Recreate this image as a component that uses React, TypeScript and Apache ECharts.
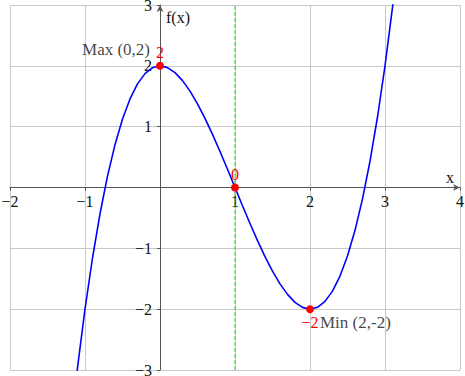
import React, { useEffect, useRef } from "react";
import * as echarts from "echarts";

// x positions of the sampled curve
const curveX: number[] = [
  -1.2, -1.1, -1.0, -0.9, -0.8, -0.7, -0.6, -0.5, -0.4, -0.3, -0.2, -0.1, 0.0,
  0.1, 0.2, 0.3, 0.4, 0.5, 0.6, 0.7, 0.8, 0.9, 1.0, 1.1, 1.2, 1.3, 1.4, 1.5,
  1.6, 1.7, 1.8, 1.9, 2.0, 2.1, 2.2, 2.3, 2.4, 2.5, 2.6, 2.7, 2.8, 2.9, 3.0,
  3.1, 3.2,
];
// f(x) values
const curveY: number[] = [
  -4.048, -2.961, -2.0, -1.159, -0.432, 0.187, 0.704, 1.125, 1.456, 1.703,
  1.872, 1.969, 2.0, 1.971, 1.888, 1.757, 1.584, 1.375, 1.136, 0.873, 0.592,
  0.299, 0.0, -0.299, -0.592, -0.873, -1.136, -1.375, -1.584, -1.757, -1.888,
  -1.971, -2.0, -1.969, -1.872, -1.703, -1.456, -1.125, -0.704, -0.187, 0.432,
  1.159, 2.0, 2.961, 4.048,
];

// highlighted points
const pointX: number[] = [0, 1, 2];
const pointY: number[] = [2, 0, -2];
const pointLabels: string[] = ["2", "0", "\u22122"];

// annotations
const annotations: string[] = ["Max (0,2)", "Min (2,-2)"];
const annotationX: number[] = [0, 2];
const annotationY: number[] = [2, -2];

// vertical reference line
const verticalLineX: number[] = [1, 1];
const verticalLineY: number[] = [-3, 3];

const X_MIN = -2;
const X_MAX = 4;
const Y_MIN = -3;
const Y_MAX = 3;

const FONT = "'Liberation Serif', serif";

const fmt = (v: number) => (v === 0 ? "" : v < 0 ? "\u2212" + Math.abs(v) : String(v));

export default function App() {
  const ref = useRef<HTMLDivElement>(null);
  useEffect(() => {
    if (!ref.current) return;
    const chart = echarts.init(ref.current, undefined, { renderer: "svg" });
    const W = 465;
    const H = 376;
    const G = { left: 10, top: 5, right: 5, bottom: 6 };
    const gw = W - G.left - G.right;
    const gh = H - G.top - G.bottom;
    // shift axes so they cross at the origin, carrying their labels with them
    const xAxisOffset = -(gh * (0 - Y_MIN)) / (Y_MAX - Y_MIN);
    const yAxisOffset = -(gw * (0 - X_MIN)) / (X_MAX - X_MIN);
    const labelCommon = {
      formatter: fmt,
      color: "#111",
      fontFamily: FONT,
      fontSize: 16,
      showMinLabel: true,
      showMaxLabel: true,
      hideOverlap: false,
    };
    const axisCommon = {
      type: "value" as const,
      interval: 1,
      axisLine: {
        onZero: false,
        symbol: ["none", "arrow"],
        symbolSize: [5, 7],
        lineStyle: { color: "#555", width: 1 },
      },
      axisTick: { show: true, length: 3, lineStyle: { color: "#555" } },
      splitLine: { show: true, lineStyle: { color: "#c8c8c8", width: 1 } },
    };
    chart.setOption({
      animation: false,
      backgroundColor: "#fff",
      textStyle: { fontFamily: FONT },
      grid: { ...G, containLabel: false, outerBoundsMode: "none" },
      xAxis: {
        ...axisCommon,
        position: "bottom",
        offset: xAxisOffset,
        min: X_MIN,
        max: X_MAX,
        name: "x",
        nameLocation: "end",
        nameGap: -10,
        nameTextStyle: {
          fontFamily: FONT,
          fontSize: 16,
          color: "#111",
          align: "center",
          verticalAlign: "bottom",
          padding: [0, 0, 2, 0],
        },
        axisLabel: { ...labelCommon, margin: 6 },
      },
      yAxis: {
        ...axisCommon,
        position: "left",
        offset: yAxisOffset,
        min: Y_MIN,
        max: Y_MAX,
        name: "f(x)",
        nameLocation: "end",
        nameGap: -12,
        nameTextStyle: {
          fontFamily: FONT,
          fontSize: 16,
          color: "#111",
          align: "left",
          verticalAlign: "middle",
          padding: [0, 0, 0, 6],
        },
        axisLabel: { ...labelCommon, margin: 8 },
      },
      series: [
        {
          type: "line",
          data: verticalLineX.map((x, i) => [x, verticalLineY[i]]),
          showSymbol: false,
          silent: true,
          lineStyle: { color: "#33cc33", type: [4, 2], width: 1 },
          itemStyle: { color: "#33cc33" },
          z: 2,
        },
        {
          type: "line",
          data: curveX.map((x, i) => [x, curveY[i]]),
          showSymbol: false,
          clip: true,
          lineStyle: { color: "#0000ff", width: 1.6 },
          itemStyle: { color: "#0000ff" },
          z: 3,
        },
        {
          type: "scatter",
          data: pointX.map((x, i) => ({
            value: [x, pointY[i]],
            label: {
              show: true,
              formatter: pointLabels[i],
              position: pointY[i] < 0 ? "bottom" : "top",
              distance: 1,
            },
          })),
          symbolSize: 8,
          itemStyle: { color: "#ff0000", opacity: 1 },
          label: { color: "#ff0000", fontFamily: FONT, fontSize: 16 },
          z: 5,
        },
        {
          type: "scatter",
          data: annotationX.map((x, i) => ({
            value: [x, annotationY[i]],
            label: {
              show: true,
              formatter: annotations[i],
              position: i === 0 ? "left" : "right",
              distance: 10,
              offset: i === 0 ? [0, -16] : [0, 13],
            },
          })),
          symbolSize: 0.01,
          itemStyle: { color: "transparent" },
          label: { color: "#111", fontFamily: FONT, fontSize: 17 },
          z: 4,
        },
      ],
    });
    return () => chart.dispose();
  }, []);
  return (
    <div
      ref={ref}
      style={{ position: "absolute", left: 0, top: 0, width: 465, height: 376 }}
    />
  );
}
